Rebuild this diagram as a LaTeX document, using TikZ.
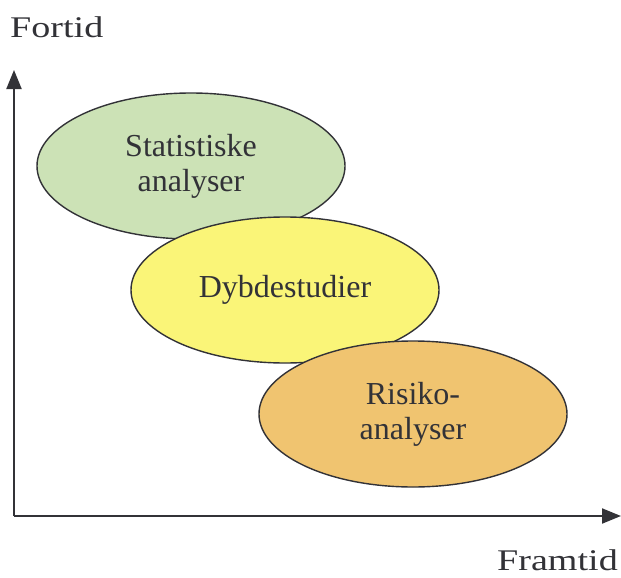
\documentclass[tikz,border=0pt]{standalone}
\usepackage{fontspec}
\setmainfont{Liberation Serif}
\newfontfamily\axisfont[FakeStretch=1.27]{Liberation Serif}
\usetikzlibrary{arrows.meta,shapes.geometric}
\definecolor{ellgreen}{RGB}{204,226,182}
\definecolor{ellyellow}{RGB}{250,245,120}
\definecolor{ellorange}{RGB}{240,196,112}
\definecolor{inkgray}{RGB}{50,50,55}
\tikzset{
  ellbox/.style={ellipse, draw=inkgray, line width=1.4pt, inner sep=0pt,
    minimum width=308pt, minimum height=146pt, align=center,
    font=\fontsize{32}{35}\selectfont, text=inkgray},
  axisline/.style={draw=inkgray, line width=2pt, -{Triangle[length=19pt,width=15pt]}},
  axislabel/.style={font=\axisfont\fontsize{30}{34}\selectfont, text=inkgray, inner sep=0pt}
}
\begin{document}
\begin{tikzpicture}[x=1pt,y=-1pt]
\useasboundingbox[fill=white] (0,0) rectangle (621,578);
\node[ellbox, fill=ellgreen] (stat) at (191,166) {Statistiske\\analyser};
\node[ellbox, fill=ellyellow] (dyb) at (285,290) {Dybdestudier};
\node[ellbox, fill=ellorange] (risk) at (413,414) {Risiko-\\analyser};
\coordinate (o) at (14,516);
\coordinate (ytip) at (14,70);
\coordinate (xtip) at (621,516);
\draw[axisline] (o) -- (ytip);
\draw[axisline] (o) -- (xtip);
\node[axislabel, anchor=base west] (fortid) at (10,38) {Fortid};
\node[axislabel, anchor=base east] (framtid) at (618,570) {Framtid};
\end{tikzpicture}
\end{document}
